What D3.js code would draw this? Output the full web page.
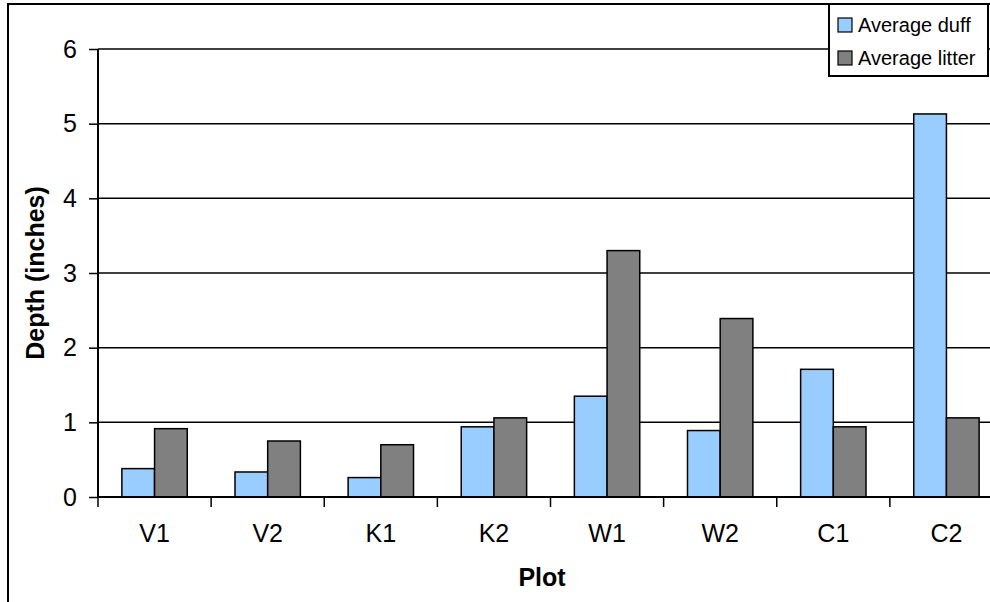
<!DOCTYPE html>
<html>
<head>
<meta charset="utf-8">
<script src="https://cdn.jsdelivr.net/npm/d3@7"></script>
<style>
  html, body { margin: 0; padding: 0; background: #fff; }
  svg { display: block; font-family: "Liberation Sans", Arial, sans-serif; }
</style>
</head>
<body>
<svg id="chart" width="990" height="602"></svg>
<script>
const categories = ["V1", "V2", "K1", "K2", "W1", "W2", "C1", "C2"];
const seriesNames = ["Average duff", "Average litter"];
const duff = [0.38, 0.335, 0.26, 0.94, 1.35, 0.89, 1.71, 5.13];
const litter = [0.915, 0.75, 0.70, 1.06, 3.30, 2.39, 0.94, 1.06];
const yTicks = [0, 1, 2, 3, 4, 5, 6];
const colors = ["#99CCFF", "#808080"];

(function () {
const svg = d3.select("#chart");

// outer chart border (right/bottom cropped off)
svg.append("rect").attr("x", 8).attr("y", 4).attr("width", 1100).attr("height", 700)
  .attr("fill", "#fff").attr("stroke", "#000").attr("stroke-width", 2);

const pLeft = 98, pRight = 1003, pTop = 49, pBottom = 497;

const x = d3.scaleBand().domain(categories).range([pLeft, pRight]).paddingInner(0).paddingOuter(0);
const x1 = d3.scaleBand().domain(seriesNames).range([0, x.bandwidth()]).paddingInner(0).paddingOuter(0.73);
const y = d3.scaleLinear().domain([0, 6]).range([pBottom, pTop]);

// gridlines
svg.append("g").selectAll("line").data(yTicks.filter(d => d > 0)).join("line")
  .attr("x1", pLeft).attr("x2", pRight)
  .attr("y1", d => y(d)).attr("y2", d => y(d))
  .attr("stroke", "#000").attr("stroke-width", 1.5);

// bars
const data = categories.map((c, i) => ({ c, vals: [duff[i], litter[i]] }));
const groups = svg.append("g").selectAll("g").data(data).join("g")
  .attr("transform", d => `translate(${x(d.c)},0)`);
groups.selectAll("rect").data(d => d.vals.map((v, j) => ({ v, s: seriesNames[j], j })))
  .join("rect")
  .attr("x", d => x1(d.s))
  .attr("width", x1.bandwidth())
  .attr("y", d => y(d.v))
  .attr("height", d => y(0) - y(d.v))
  .attr("fill", d => colors[d.j])
  .attr("stroke", "#000").attr("stroke-width", 1.5);

// y axis
const yAxis = d3.axisLeft(y).tickValues(yTicks).tickSize(9).tickPadding(12).tickFormat(d3.format("d"));
const gy = svg.append("g").attr("transform", `translate(${pLeft},0)`).call(yAxis);
gy.select(".domain").attr("stroke", "#000").attr("stroke-width", 2).attr("d", `M0,${pTop}V${pBottom}`);
gy.selectAll(".tick line").attr("stroke", "#000").attr("stroke-width", 1.5);
gy.selectAll(".tick text").attr("font-size", 25).attr("fill", "#000")
  .attr("font-family", "Liberation Sans, Arial, sans-serif");

// x axis: ticks between categories
const xAxis = d3.axisBottom(x).tickSize(0).tickPadding(27);
const gx = svg.append("g").attr("transform", `translate(0,${pBottom})`).call(xAxis);
gx.select(".domain").attr("stroke", "#000").attr("stroke-width", 2).attr("d", `M${pLeft},0H${pRight}`);
gx.selectAll(".tick text").attr("font-size", 25).attr("fill", "#000")
  .attr("font-family", "Liberation Sans, Arial, sans-serif");
gx.append("g").selectAll("line").data(categories).join("line")
  .attr("x1", d => x(d)).attr("x2", d => x(d)).attr("y1", 0).attr("y2", 10)
  .attr("stroke", "#000").attr("stroke-width", 1.5);

// axis titles
svg.append("text").attr("x", 542).attr("y", 586).attr("text-anchor", "middle")
  .attr("font-size", 25).attr("font-weight", "bold").text("Plot");
svg.append("text").attr("transform", `translate(44,${(pTop + pBottom) / 2}) rotate(-90)`)
  .attr("text-anchor", "middle").attr("font-size", 25).attr("font-weight", "bold").text("Depth (inches)");

// legend
const lg = svg.append("g");
const lx = 829, ly = 4, lw = 159, lh = 72;
lg.append("rect").attr("x", lx).attr("y", ly).attr("width", lw).attr("height", lh)
  .attr("fill", "#fff").attr("stroke", "#000").attr("stroke-width", 2);
seriesNames.forEach((s, i) => {
  const cy = ly + 21 + i * 33;
  lg.append("rect").attr("x", lx + 9).attr("y", cy - 7).attr("width", 14).attr("height", 14)
    .attr("fill", colors[i]).attr("stroke", "#000").attr("stroke-width", 1.2);
  lg.append("text").attr("x", lx + 29).attr("y", cy).attr("dy", "0.35em")
    .attr("font-size", 20).text(s);
});
})();
</script>
</body>
</html>
